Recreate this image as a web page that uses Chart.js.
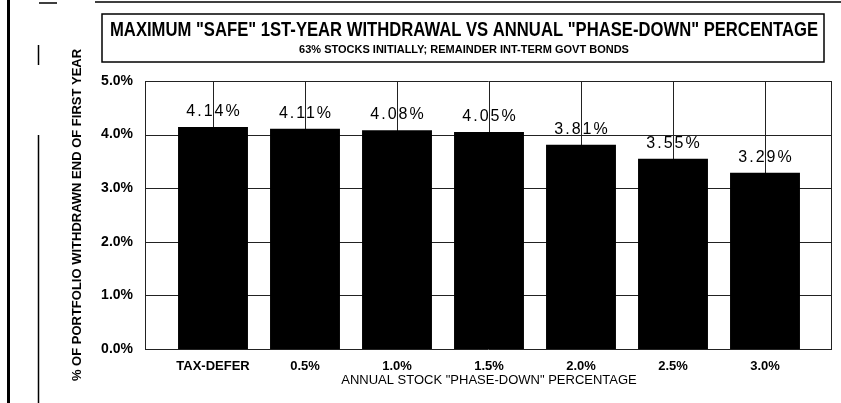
<!DOCTYPE html>
<html>
<head>
<meta charset="utf-8">
<script src="https://cdn.jsdelivr.net/npm/chart.js@4/dist/chart.umd.min.js"></script>
<style>
  html, body { margin: 0; padding: 0; background: #fff; }
  canvas { display: block; }
</style>
</head>
<body>
<canvas id="c" width="841" height="403"></canvas>
<script>
const categories = ['TAX-DEFER', '0.5%', '1.0%', '1.5%', '2.0%', '2.5%', '3.0%'];
const withdrawalRates = [4.14, 4.11, 4.08, 4.05, 3.81, 3.55, 3.29];
const chartTitle = 'MAXIMUM "SAFE" 1ST-YEAR WITHDRAWAL VS ANNUAL "PHASE-DOWN" PERCENTAGE';
const chartSubtitle = '63% STOCKS INITIALLY; REMAINDER INT-TERM GOVT BONDS';
const xAxisTitle = 'ANNUAL STOCK "PHASE-DOWN" PERCENTAGE';
const yAxisTitle = '% OF PORTFOLIO WITHDRAWN END OF FIRST YEAR';

const SANS = '"Liberation Sans", Arial, sans-serif';

function condensedText(ctx, text, cx, cy, font, targetWidth) {
  ctx.save();
  ctx.font = font;
  const w = ctx.measureText(text).width;
  const sx = Math.min(1, targetWidth / w);
  ctx.translate(cx, cy);
  ctx.scale(sx, 1);
  ctx.fillText(text, 0, 0);
  ctx.restore();
}

const decor = {
  id: 'decor',
  beforeDraw(chart) {
    const ctx = chart.ctx;
    ctx.save();
    ctx.fillStyle = '#fff';
    ctx.fillRect(0, 0, chart.width, chart.height);
    ctx.strokeStyle = '#000';
    // scan edge lines
    ctx.lineWidth = 3;
    ctx.beginPath(); ctx.moveTo(8.5, 0); ctx.lineTo(8.5, 403); ctx.stroke();
    ctx.lineWidth = 1.5;
    ctx.beginPath();
    ctx.moveTo(38.5, 45); ctx.lineTo(38.5, 65);
    ctx.moveTo(38.5, 135); ctx.lineTo(38.5, 403);
    ctx.moveTo(39, 3); ctx.lineTo(57, 3);
    ctx.moveTo(95, 2); ctx.lineTo(841, 2);
    ctx.stroke();
    // title box
    ctx.lineWidth = 1.5;
    ctx.strokeRect(102, 14, 722, 48);
    // title text
    ctx.fillStyle = '#000';
    ctx.textAlign = 'center';
    ctx.textBaseline = 'middle';
    condensedText(ctx, chartTitle, 464, 30, 'bold 20px ' + SANS, 708);
    condensedText(ctx, chartSubtitle, 464, 50, 'bold 11px ' + SANS, 398);
    ctx.restore();
  },
  beforeDatasetsDraw(chart) {
    const ctx = chart.ctx;
    const y = chart.scales.y;
    const area = chart.chartArea;
    const L = area.left - 22, R = area.right + 21;
    ctx.save();
    ctx.strokeStyle = '#222';
    ctx.lineWidth = 1;
    ctx.beginPath();
    y.ticks.forEach(t => {
      const py = Math.round(y.getPixelForValue(t.value)) + 0.5;
      ctx.moveTo(L, py); ctx.lineTo(R, py);
    });
    ctx.moveTo(L + 0.5, y.getPixelForValue(y.max)); ctx.lineTo(L + 0.5, y.getPixelForValue(0));
    ctx.moveTo(R - 0.5, y.getPixelForValue(y.max)); ctx.lineTo(R - 0.5, y.getPixelForValue(0));
    ctx.stroke();
    ctx.restore();
  },
  afterDatasetsDraw(chart) {
    const ctx = chart.ctx;
    const meta = chart.getDatasetMeta(0);
    ctx.save();
    ctx.fillStyle = '#000';
    ctx.font = '16px ' + SANS;
    ctx.textAlign = 'center';
    ctx.textBaseline = 'alphabetic';
    if ('letterSpacing' in ctx) ctx.letterSpacing = '2px';
    meta.data.forEach((bar, i) => {
      const txt = withdrawalRates[i].toFixed(2) + '%';
      ctx.fillText(txt, bar.x + 1, bar.y - 11);
    });
    ctx.restore();
  }
};

new Chart(document.getElementById('c'), {
  type: 'bar',
  data: {
    labels: categories,
    datasets: [{
      data: withdrawalRates,
      backgroundColor: '#000',
      borderWidth: 0,
      categoryPercentage: 1,
      barPercentage: 0.76
    }]
  },
  options: {
    responsive: false,
    animation: false,
    devicePixelRatio: 1,
    layout: { padding: { top: 81, left: 60, right: 30, bottom: 0 } },
    plugins: {
      legend: { display: false },
      tooltip: { enabled: false },
      title: { display: false }
    },
    scales: {
      x: {
        afterFit(scale) { scale.height = 54; },
        grid: { display: true, offset: false, drawTicks: false, color: '#222', lineWidth: 1 },
        border: { display: false },
        ticks: { color: '#000', padding: 10, font: { family: SANS, size: 13, weight: 'bold' } },
        title: {
          display: true, text: xAxisTitle, color: '#000',
          font: { family: SANS, size: 13, weight: 'normal' },
          padding: { top: 0, bottom: 15 }
        }
      },
      y: {
        min: 0, max: 5,
        afterFit(scale) { scale.width = 107; },
        grid: { display: false, drawTicks: false },
        border: { display: false },
        ticks: {
          stepSize: 1, padding: 34, color: '#000',
          font: { family: SANS, size: 14, weight: 'bold' },
          callback: v => v.toFixed(1) + '%'
        },
        title: {
          display: true, text: yAxisTitle, color: '#000',
          font: { family: SANS, size: 13, weight: 'bold' },
          padding: { top: 10, bottom: 0 }
        }
      }
    }
  },
  plugins: [decor]
});
</script>
</body>
</html>
